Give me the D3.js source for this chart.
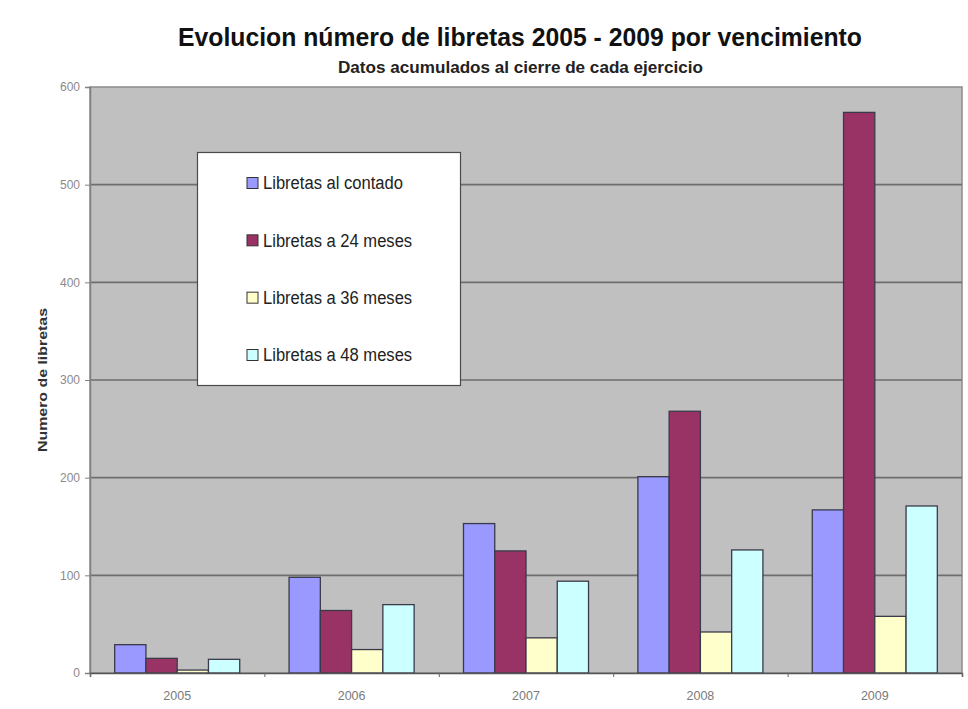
<!DOCTYPE html>
<html><head><meta charset="utf-8">
<script src="https://cdn.jsdelivr.net/npm/d3@7"></script>
<style>body{margin:0;background:#fff}</style>
</head><body>
<svg id="chart" width="968" height="709"></svg>
<script>
const years = ["2005", "2006", "2007", "2008", "2009"];
const seriesNames = ["Libretas al contado", "Libretas a 24 meses", "Libretas a 36 meses", "Libretas a 48 meses"];
const contado = [29, 98, 153, 201, 167];
const meses24 = [15, 64, 125, 268, 574];
const meses36 = [3, 24, 36, 42, 58];
const meses48 = [14, 70, 94, 126, 171];
const yTicks = [0, 100, 200, 300, 400, 500, 600];
const colors = ["#9999FF", "#993366", "#FFFFCC", "#CCFFFF"];
const titleText = "Evolucion número de libretas 2005 - 2009 por vencimiento";
const subtitleText = "Datos acumulados al cierre de cada ejercicio";
const yAxisTitle = "Numero de libretas";

const seriesValues = [contado, meses24, meses36, meses48];
const FONT = "'Liberation Sans', Arial, sans-serif";
const svg = d3.select("#chart");
const L = 90, R = 962, T = 87, B = 673;

const y = d3.scaleLinear().domain([0, 600]).range([B, T]);
const x0 = d3.scaleBand().domain(years).range([L, R]).paddingInner(0.283).paddingOuter(0.1415);
const x1 = d3.scaleBand().domain(seriesNames).range([0, x0.bandwidth()]);
const xb = d3.scaleLinear().domain([0, years.length]).range([L, R]);

// plot background
svg.append("rect").attr("x", L).attr("y", T).attr("width", R - L).attr("height", B - T)
  .attr("fill", "#C0C0C0").attr("stroke", "#8c8c8c").attr("stroke-width", 1.5);

// gridlines
svg.append("g").selectAll("line").data(yTicks.filter(d => d > 0 && d < 600)).join("line")
  .attr("x1", L).attr("x2", R).attr("y1", d => y(d)).attr("y2", d => y(d))
  .attr("stroke", "#6e6e6e").attr("stroke-width", 1.6);

// bars
const gBars = svg.append("g");
seriesNames.forEach((s, i) => {
  gBars.append("g").selectAll("rect").data(years.map((yr, j) => ({yr, v: seriesValues[i][j]}))).join("rect")
    .attr("x", d => x0(d.yr) + x1(s))
    .attr("width", x1.bandwidth())
    .attr("y", d => y(d.v))
    .attr("height", d => B - y(d.v))
    .attr("fill", colors[i])
    .attr("stroke", "#3a3a4a").attr("stroke-width", 1.3);
});

// y axis
const yAxis = svg.append("g").attr("transform", `translate(${L},0)`)
  .call(d3.axisLeft(y).tickValues(yTicks).tickSize(5).tickPadding(5));
yAxis.select(".domain").attr("stroke", "#808080").attr("stroke-width", 1.5);
yAxis.selectAll(".tick line").attr("stroke", "#808080");
yAxis.selectAll("text").attr("fill", "#8a8a8a").style("font-family", FONT).style("font-size", "12px");

// x axis boundary ticks
const xTickAxis = svg.append("g").attr("transform", `translate(0,${B})`)
  .call(d3.axisBottom(xb).tickValues(d3.range(0, years.length + 1)).tickFormat("").tickSize(4));
xTickAxis.select(".domain").attr("stroke", "#555").attr("stroke-width", 1.5);
xTickAxis.selectAll(".tick line").attr("stroke", "#666");

// x labels
const xLab = svg.append("g").attr("transform", `translate(0,${B})`)
  .call(d3.axisBottom(x0).tickSize(0).tickPadding(18));
xLab.select(".domain").remove();
xLab.selectAll("text").attr("fill", "#7a7a7a").style("font-family", FONT).style("font-size", "12.5px");

// titles
svg.append("text").attr("x", 520).attr("y", 46).attr("text-anchor", "middle")
  .attr("textLength", 684).attr("lengthAdjust", "spacingAndGlyphs")
  .style("font-family", FONT).style("font-size", "25px").style("font-weight", "bold")
  .attr("fill", "#111").text(titleText);
svg.append("text").attr("x", 520.5).attr("y", 73).attr("text-anchor", "middle")
  .attr("textLength", 365).attr("lengthAdjust", "spacingAndGlyphs")
  .style("font-family", FONT).style("font-size", "16.5px").style("font-weight", "bold")
  .attr("fill", "#222").text(subtitleText);
svg.append("text").attr("transform", "translate(47,380) rotate(-90)").attr("text-anchor", "middle")
  .attr("textLength", 144).attr("lengthAdjust", "spacingAndGlyphs")
  .style("font-family", FONT).style("font-size", "12px").style("font-weight", "bold")
  .attr("fill", "#333").text(yAxisTitle);

// legend
const leg = svg.append("g");
leg.append("rect").attr("x", 197.5).attr("y", 152.5).attr("width", 263).attr("height", 233)
  .attr("fill", "#fff").attr("stroke", "#4a4a4a").attr("stroke-width", 1.2);
const ly = d3.scaleLinear().domain([0, 3]).range([183, 355]);
const items = leg.selectAll("g.item").data(seriesNames).join("g").attr("class", "item")
  .attr("transform", (d, i) => `translate(247,${ly(i)})`);
items.append("rect").attr("x", 0).attr("y", -5.5).attr("width", 11).attr("height", 11)
  .attr("fill", (d, i) => colors[i]).attr("stroke", "#333").attr("stroke-width", 1);
items.append("text").attr("x", 16).attr("dy", "0.36em")
  .style("font-family", FONT).style("font-size", "18px").attr("fill", "#222").text(d => d)
  .each(function () {
    const w = this.getComputedTextLength();
    d3.select(this).attr("textLength", w * 0.92).attr("lengthAdjust", "spacingAndGlyphs");
  });
</script>
</body></html>
